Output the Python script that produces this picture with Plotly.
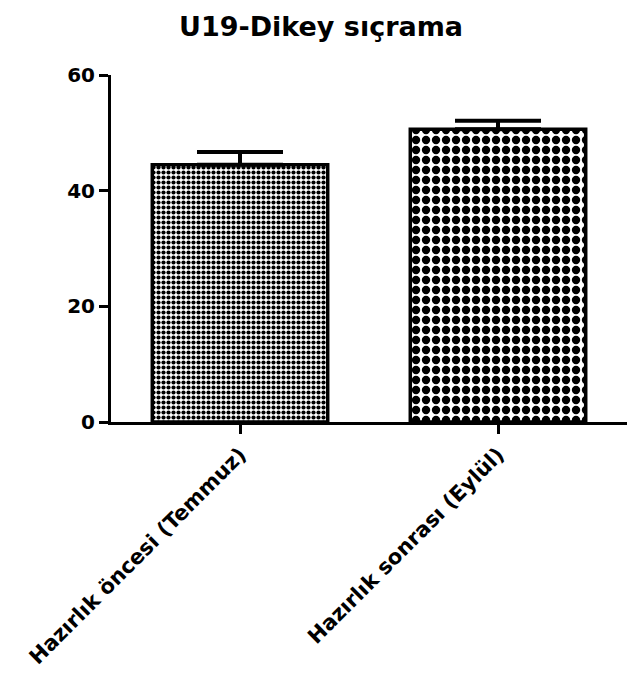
import plotly.graph_objects as go

categories = ["Hazırlık öncesi (Temmuz)", "Hazırlık sonrası (Eylül)"]
means = [44.5, 50.6]
errors_up = [2.2, 1.5]
y_ticks = [0, 20, 40, 60]
title_text = "U19-Dikey sıçrama"

FONT = "DejaVu Sans, Liberation Sans, Arial, sans-serif"

fig = go.Figure()
fig.add_trace(go.Bar(
    x=categories,
    y=means,
    width=0.68,
    marker=dict(
        color="white",
        line=dict(color="black", width=3.5),
        pattern=dict(shape=[".", "."], size=[5, 10], solidity=0.55,
                     fgcolor="black", bgcolor="white", fillmode="replace"),
    ),
    error_y=dict(type="data", symmetric=False, array=errors_up,
                 arrayminus=[0, 0], color="black", thickness=4, width=43),
))

fig.update_layout(
    width=627, height=686,
    margin=dict(l=111, r=0, t=75, b=264),
    paper_bgcolor="white", plot_bgcolor="white",
    showlegend=False,
    title=dict(text=title_text, x=0.512, xanchor="center", xref="container",
               y=0.962, yanchor="middle", yref="container",
               font=dict(family=FONT, size=27, color="black", weight="bold")),
    font=dict(family=FONT, color="black"),
)
fig.update_xaxes(
    range=[-0.5, 1.5], showline=True, linecolor="black", linewidth=3,
    ticks="outside", ticklen=9, tickwidth=2.5, tickcolor="black",
    tickangle=-45, tickfont=dict(family=FONT, size=21, weight="bold", color="black"),
    showgrid=False, zeroline=False,
)
fig.update_yaxes(
    range=[0, 60], tickvals=y_ticks, showline=True, linecolor="black", linewidth=3,
    ticks="outside", ticklen=9, tickwidth=2.5, tickcolor="black",
    tickfont=dict(family=FONT, size=20, weight="bold", color="black"),
    showgrid=False, zeroline=False,
)

fig.write_html(
    "out.html",
    config={"displayModeBar": False},
    post_script="document.body.style.margin='0';document.body.style.overflow='hidden';",
)
